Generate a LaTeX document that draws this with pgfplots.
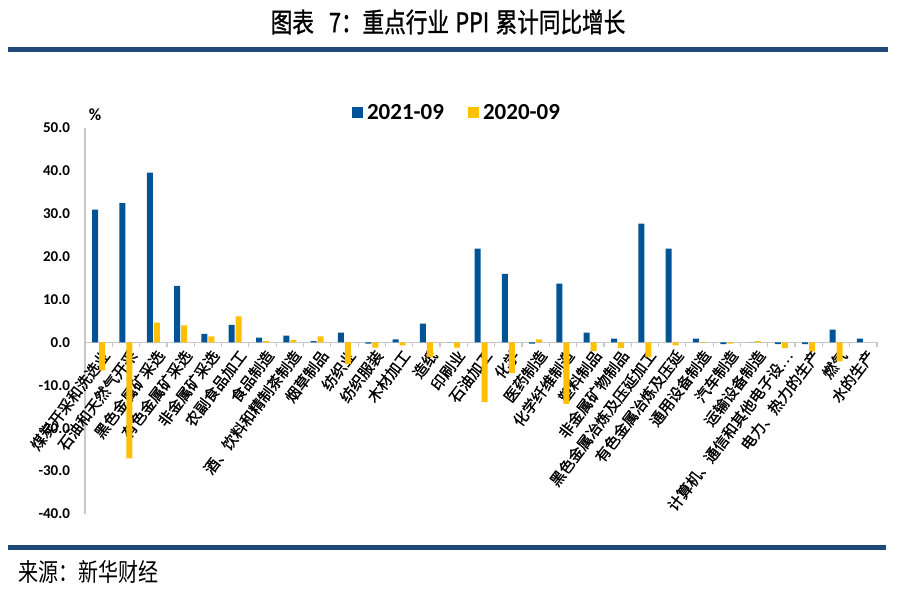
\documentclass[border=0pt]{standalone}
\usepackage{fontspec}
\setmainfont{Carlito}
\newfontfamily\cjk{Noto Sans CJK SC}
\newfontfamily\cjkb{Noto Sans CJK SC}[FakeBold=1.2]
\usepackage{graphicx}
\usepackage{pgfplots}
\usepackage{pgfplotstable}
\pgfplotsset{compat=1.18}
\definecolor{cblue}{RGB}{0,84,150}
\definecolor{cyel}{RGB}{255,192,0}
\definecolor{rulec}{RGB}{31,73,118}
\definecolor{axgray}{RGB}{200,200,200}

\pgfplotstableread{
x b y
0 31.0 -6.5
1 32.5 -27.0
2 39.6 4.6
3 13.2 4.0
4 2.0 1.4
5 4.1 6.1
6 1.1 0.3
7 1.6 0.6
8 0.3 1.4
9 2.3 -5.0
10 -0.3 -1.2
11 0.7 -0.7
12 4.4 -3.4
13 0.0 -1.2
14 21.9 -13.9
15 16.0 -7.1
16 -0.3 0.7
17 13.7 -14.3
18 2.3 -2.0
19 0.9 -1.3
20 27.7 -3.4
21 21.9 -0.7
22 0.9 -0.1
23 -0.4 -0.3
24 0.0 0.3
25 -0.4 -1.3
26 -0.4 -2.1
27 3.0 -4.4
28 0.9 0.0
}\data

\begin{document}
\begin{tikzpicture}
\useasboundingbox (0,0) rectangle (450pt,-300pt);
\fill[rulec] (4pt,-23.5pt) rectangle (444pt,-26pt);
\fill[rulec] (4pt,-272.5pt) rectangle (443pt,-275pt);
\node at (224pt,-11pt) {\scalebox{0.8}[1]{\cjkb\fontsize{13.5}{15}\selectfont 图表\hspace{0.7em}7：重点行业\hspace{0.3em}PPI\hspace{0.3em}累计同比增长}};
\node[anchor=west,inner sep=0pt] at (9pt,-286pt) {\scalebox{0.8}[1]{\cjk\fontsize{12.5}{14}\selectfont 来源：新华财经}};
\node at (47.5pt,-57.5pt) {\bfseries\fontsize{8.5}{10}\selectfont \%};
\begin{axis}[
  at={(42.5pt,-257pt)}, anchor=south west,
  scale only axis, width=396pt, height=193pt,
  xmin=-0.5, xmax=28.5, ymin=-40, ymax=50,
  axis x line*=middle, axis y line*=left,
  axis line style={axgray, line width=0.9pt},
  ybar=0.5pt, bar width=3pt,
  xtick={0,...,28},
  xticklabels={{煤炭开采和洗选业},{石油和天然气开采},{黑色金属矿采选},{有色金属矿采选},{非金属矿采选},{农副食品加工},{食品制造},{酒、饮料和精制茶制造},{烟草制品},{纺织业},{纺织服装},{木材加工},{造纸},{印刷业},{石油加工},{化学},{医药制造},{化学纤维制造},{塑料制品},{非金属矿物制品},{黑色金属冶炼及压延加工},{有色金属冶炼及压延},{通用设备制造},{汽车制造},{运输设备制造},{计算机、通信和其他电子设…},{电力、热力的生产},{燃气},{水的生产}},
  minor xtick={-0.5,0.5,...,28.5},
  major tick length=0pt,
  minor tick length=2.5pt,
  tick align=outside,
  minor tick style={axgray, line width=0.6pt},
  xticklabel style={rotate=53, anchor=east, font=\cjkb\fontsize{7.5}{8}\selectfont, inner sep=1pt, yshift=-6pt, xshift=-0.5pt},
  ytick={-40,-30,...,50},
  yticklabel={\pgfmathprintnumber[fixed,fixed zerofill,precision=1,assume math mode=true]{\tick}},
  yticklabel style={font=\bfseries\fontsize{7.5}{9}\selectfont, xshift=-4pt},
  legend style={at={(0.471,1.039)}, anchor=center, draw=none, fill=none, legend columns=2,
    font=\bfseries\fontsize{11.5}{12}\selectfont,
    /tikz/every even column/.append style={column sep=10pt}},
]
\addplot[fill=cblue, draw=none, legend image code/.code={\fill[cblue] (0pt,-2.75pt) rectangle (5.5pt,2.75pt);}] table[x=x,y=b] {\data};
\addplot[fill=cyel, draw=none, legend image code/.code={\fill[cyel] (0pt,-2.75pt) rectangle (5.5pt,2.75pt);}] table[x=x,y=y] {\data};
\legend{2021-09,2020-09}
\end{axis}
\end{tikzpicture}
\end{document}
